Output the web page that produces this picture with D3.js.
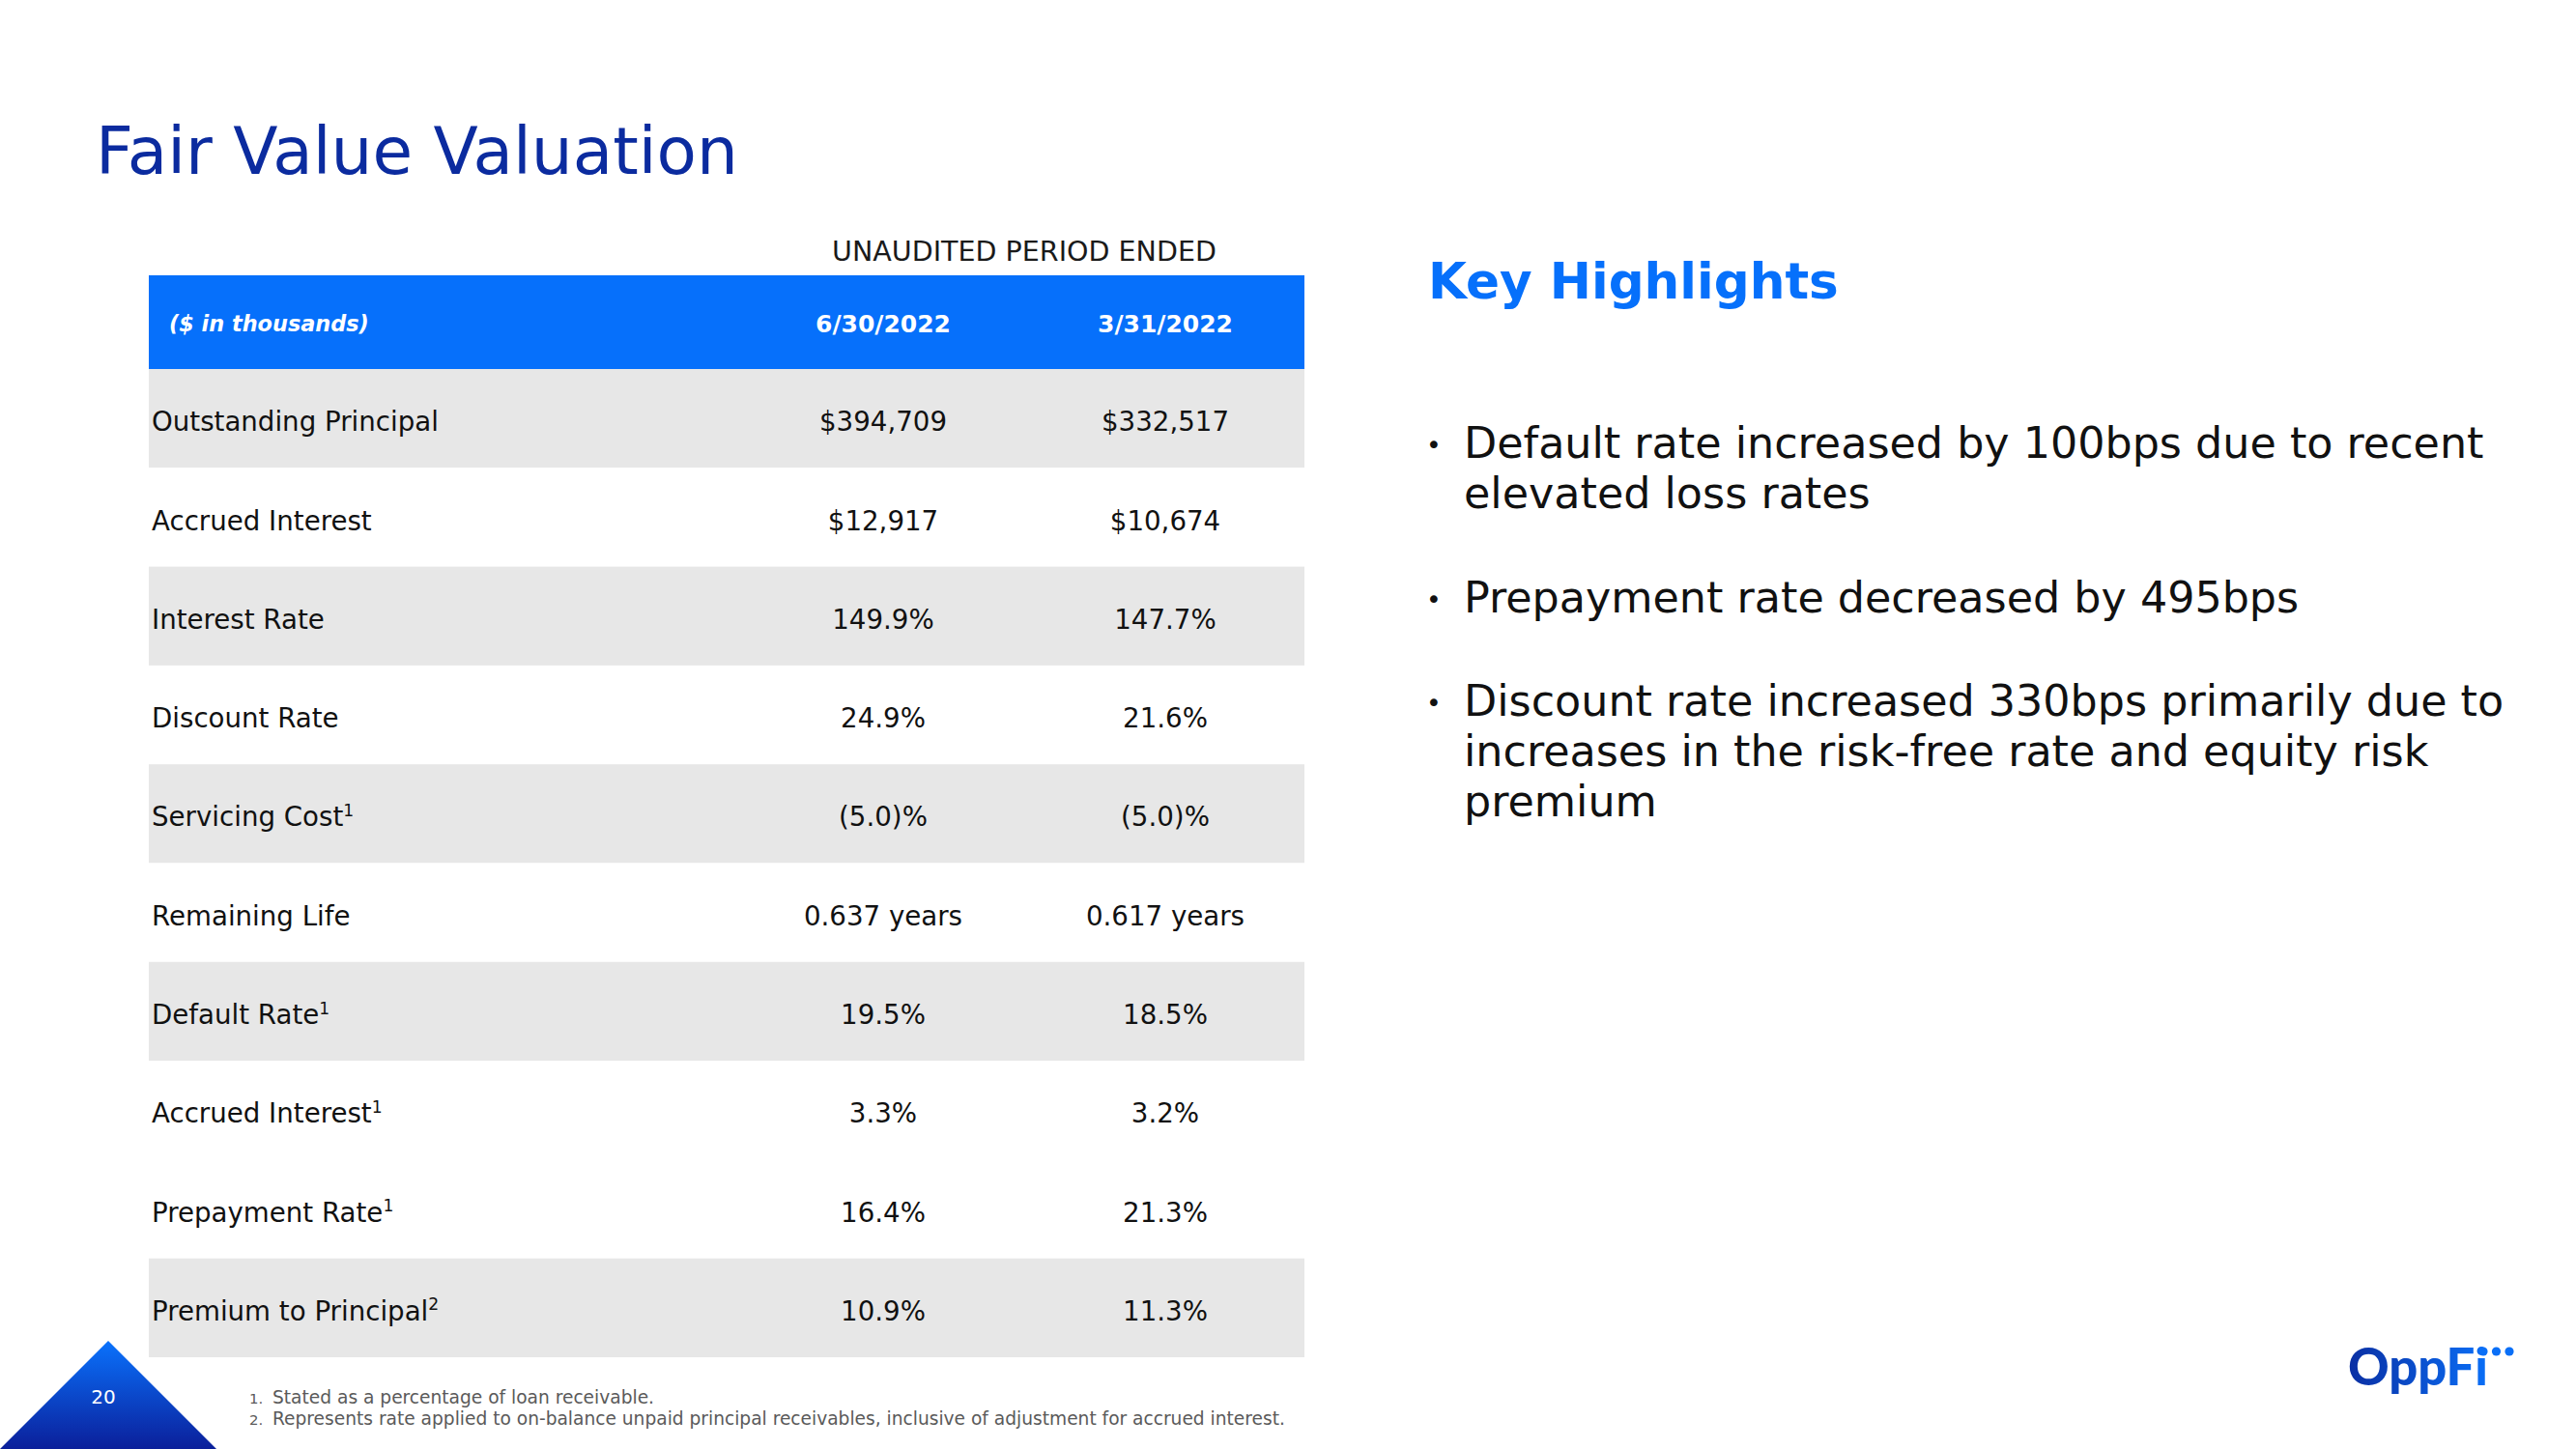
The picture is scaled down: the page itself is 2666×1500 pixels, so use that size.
<!DOCTYPE html>
<html>
<head>
<meta charset="utf-8">
<script src="https://cdn.jsdelivr.net/npm/d3@7"></script>
<style>
  html, body { margin: 0; padding: 0; background: #ffffff; }
  svg { display: block; }
</style>
</head>
<body>
<svg id="chart" width="2666" height="1500"></svg>
<script>
// ---------- DATA ----------
const title = "Fair Value Valuation";
const periodLabel = "UNAUDITED PERIOD ENDED";
const unitLabel = "($ in thousands)";
const periods = ["6/30/2022", "3/31/2022"];
const rowLabels = ["Outstanding Principal", "Accrued Interest", "Interest Rate", "Discount Rate",
  "Servicing Cost", "Remaining Life", "Default Rate", "Accrued Interest", "Prepayment Rate", "Premium to Principal"];
const rowNotes = ["", "", "", "", "1", "", "1", "1", "1", "2"];
const values0630 = ["$394,709", "$12,917", "149.9%", "24.9%", "(5.0)%", "0.637 years", "19.5%", "3.3%", "16.4%", "10.9%"];
const values0331 = ["$332,517", "$10,674", "147.7%", "21.6%", "(5.0)%", "0.617 years", "18.5%", "3.2%", "21.3%", "11.3%"];
const highlightsTitle = "Key Highlights";
const highlights = [
  ["Default rate increased by 100bps due to recent", "elevated loss rates"],
  ["Prepayment rate decreased by 495bps"],
  ["Discount rate increased 330bps primarily due to", "increases in the risk-free rate and equity risk", "premium"]
];
const footnotes = ["Stated as a percentage of loan receivable.",
  "Represents rate applied to on-balance unpaid principal receivables, inclusive of adjustment for accrued interest."];
const pageNumber = "20";
const logoText = "OppFi";

// ---------- STYLE ----------
const shaded = [true, false, true, false, true, false, true, false, false, true];
const FONT = "Verdana, 'DejaVu Sans', sans-serif";
const C_DARK = "#0b2b9f", C_BRIGHT = "#0670fb", C_GRAY = "#e7e7e7";

const svg = d3.select("#chart");
const defs = svg.append("defs");

function fit(sel, target) {
  const fs = parseFloat(sel.attr("font-size"));
  const w = sel.node().getComputedTextLength();
  const nfs = fs * target / w;
  sel.attr("font-size", nfs);
  return nfs;
}
function fitSize(text, family, weight, style, target) {
  const t = svg.append("text").attr("font-family", family).attr("font-weight", weight)
    .attr("font-style", style).attr("font-size", 100).text(text);
  const w = t.node().getComputedTextLength();
  t.remove();
  return 100 * target / w;
}

// Title
svg.append("text").attr("x", 99).attr("y", 180).attr("font-family", FONT)
  .attr("font-size", 70).attr("fill", C_DARK).text(title).call(s => fit(s, 665));

// Table scales
const x0 = 154, x1 = 1350;
const y = d3.scaleBand().domain(d3.range(rowLabels.length)).range([382, 1405]);
const colX = d3.scaleOrdinal().domain(periods).range([914, 1206]);

// Period label
svg.append("text").attr("x", 1060).attr("y", 270).attr("text-anchor", "middle")
  .attr("font-family", FONT).attr("font-size", 27).attr("fill", "#1a1a1a")
  .text(periodLabel).call(s => fit(s, 398));

// Header band
svg.append("rect").attr("x", x0).attr("y", 285).attr("width", x1 - x0).attr("height", 382 - 285).attr("fill", C_BRIGHT);
svg.append("text").attr("x", 175).attr("y", 343).attr("font-family", FONT).attr("font-weight", "bold")
  .attr("font-style", "italic").attr("font-size", 22).attr("fill", "#fff").text(unitLabel).call(s => fit(s, 207));
const hdrSize = fitSize(periods[0], FONT, "bold", "normal", 140);
svg.selectAll("text.hdr").data(periods).join("text").attr("class", "hdr")
  .attr("x", d => colX(d)).attr("y", 344).attr("text-anchor", "middle")
  .attr("font-family", FONT).attr("font-weight", "bold").attr("font-size", hdrSize)
  .attr("fill", "#fff").text(d => d);

// Rows
svg.selectAll("rect.row").data(rowLabels).join("rect").attr("class", "row")
  .attr("x", x0).attr("y", (d, i) => y(i)).attr("width", x1 - x0).attr("height", y.bandwidth())
  .attr("fill", (d, i) => shaded[i] ? C_GRAY : "#ffffff");

const bodySize = fitSize(rowLabels[0], FONT, "normal", "normal", 297);
const base = i => y(i) + y.bandwidth() / 2 + bodySize * 0.73 / 2 + 3;

const lbl = svg.selectAll("text.lbl").data(rowLabels).join("text").attr("class", "lbl")
  .attr("x", 157).attr("y", (d, i) => base(i)).attr("font-family", FONT)
  .attr("font-size", bodySize).attr("fill", "#111");
lbl.append("tspan").text(d => d);
lbl.append("tspan").attr("font-size", bodySize * 0.62).attr("dy", -bodySize * 0.38)
  .text((d, i) => rowNotes[i]);

[values0630, values0331].forEach((vals, k) => {
  svg.selectAll("text.v" + k).data(vals).join("text").attr("class", "v" + k)
    .attr("x", colX(periods[k])).attr("y", (d, i) => base(i)).attr("text-anchor", "middle")
    .attr("font-family", FONT).attr("font-size", bodySize).attr("fill", "#111").text(d => d);
});

// Key Highlights
svg.append("text").attr("x", 1478).attr("y", 309).attr("font-family", FONT).attr("font-weight", "bold")
  .attr("font-size", 52).attr("fill", C_BRIGHT).text(highlightsTitle).call(s => fit(s, 425));

const hlSize = fitSize(highlights[0][0], FONT, "normal", "normal", 1056);
const bulletBase = [474, 634, 741];
const lineH = 52;
highlights.forEach((lines, b) => {
  svg.append("text").attr("x", 1476).attr("y", bulletBase[b] - 4).attr("font-family", FONT)
    .attr("font-size", hlSize * 0.6).attr("fill", "#111").text("•");
  lines.forEach((ln, j) => {
    svg.append("text").attr("x", 1515).attr("y", bulletBase[b] + j * lineH)
      .attr("font-family", FONT).attr("font-size", hlSize).attr("fill", "#111").text(ln);
  });
});

// Footnotes
const fnSize = fitSize(footnotes[1], FONT, "normal", "normal", 1048);
footnotes.forEach((f, i) => {
  svg.append("text").attr("x", 258).attr("y", 1453 + i * 22).attr("font-family", FONT)
    .attr("font-size", fnSize * 0.8).attr("fill", "#5a5a5a").text((i + 1) + ".");
  svg.append("text").attr("x", 282).attr("y", 1453 + i * 22).attr("font-family", FONT)
    .attr("font-size", fnSize).attr("fill", "#5a5a5a").text(f);
});

// Page triangle
const tg = defs.append("linearGradient").attr("id", "triG").attr("x1", 0).attr("y1", 0).attr("x2", 0).attr("y2", 1);
tg.append("stop").attr("offset", "0%").attr("stop-color", "#0a72fc");
tg.append("stop").attr("offset", "100%").attr("stop-color", "#0b1f9a");
svg.append("path").attr("d", d3.line()([[0, 1500], [112, 1388], [224, 1500]]) + "Z").attr("fill", "url(#triG)");
svg.append("text").attr("x", 107).attr("y", 1453).attr("text-anchor", "middle").attr("font-family", FONT)
  .attr("font-size", 20).attr("fill", "#fff").text(pageNumber);

// Logo
const lg = defs.append("linearGradient").attr("id", "logoG").attr("x1", 0).attr("y1", 0).attr("x2", 1).attr("y2", 0);
lg.append("stop").attr("offset", "0%").attr("stop-color", "#0a2fa3");
lg.append("stop").attr("offset", "100%").attr("stop-color", "#0a6ff7");
svg.append("text").attr("x", 2430).attr("y", 1434).attr("font-family", "Lato, Inter, sans-serif")
  .attr("font-weight", 900).attr("font-size", 54).attr("fill", "url(#logoG)").text(logoText)
  .call(s => fit(s, 145));
svg.selectAll("circle.dot").data([0, 1, 2]).join("circle").attr("class", "dot")
  .attr("cx", d => 2570 + d * 13.5).attr("cy", 1399).attr("r", 4.6).attr("fill", "#0a6ff7");
</script>
</body>
</html>
